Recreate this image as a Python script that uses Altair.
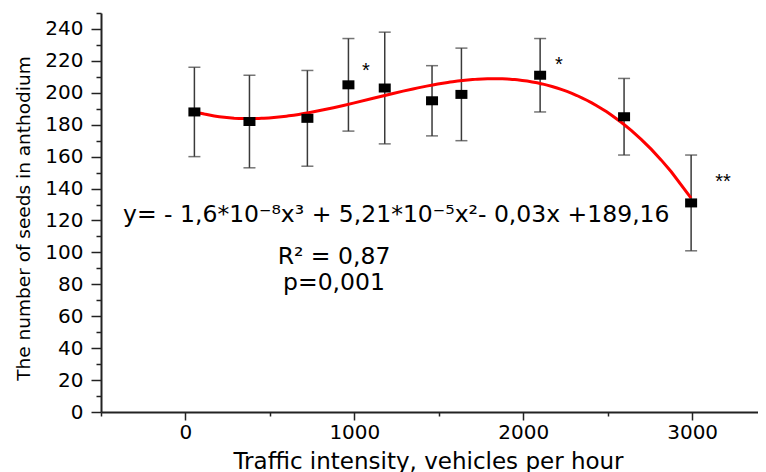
import altair as alt
import pandas as pd

# Data
traffic = [53, 379, 722, 965, 1180, 1460, 1634, 2100, 2597, 2994]
seeds = [188, 182, 184, 205, 203, 195, 199, 211, 185, 131]
err_low = [160, 153, 154, 176, 168, 173, 170, 188, 161, 101]
err_high = [216, 211, 214, 234, 238, 217, 228, 234, 209, 161]

x_ticks = [-500, 0, 500, 1000, 1500, 2000, 2500, 3000]
y_ticks = list(range(0, 251, 10))

equation = "y= - 1,6*10⁻⁸x³ + 5,21*10⁻⁵x²- 0,03x +189,16"
r2_text = "R² = 0,87"
p_text = "p=0,001"

df = pd.DataFrame({"x": traffic, "y": seeds, "lo": err_low, "hi": err_high})

FONT = "DejaVu Sans"
X_TITLE = "Traffic intensity, vehicles per hour"
Y_TITLE = "The number of seeds in anthodium"

xscale = alt.Scale(domain=[-500, 3390], nice=False, zero=False)
yscale = alt.Scale(domain=[0, 250], nice=False, zero=True)

xaxis = alt.Axis(
    values=x_ticks,
    format="d",
    labelExpr="datum.value % 1000 === 0 ? datum.label : ''",
    tickSize={"condition": {"test": "datum.value % 1000 !== 0", "value": 4}, "value": 8},
    tickColor="#222222",
    tickWidth=1.5,
    domainColor="#222222",
    domainWidth=2,
    grid=False,
    labelFont=FONT,
    labelFontSize=20,
    labelColor="black",
    labelBaseline="alphabetic",
    labelPadding=18,
    title=X_TITLE,
    titleFont=FONT,
    titleFontSize=23,
    titleFontWeight="normal",
    titleColor="black",
    titleBaseline="alphabetic",
    titleX=327,
    titleY=56,
)

yaxis = alt.Axis(
    values=y_ticks,
    labelExpr="datum.value % 20 === 0 ? datum.label : ''",
    tickSize={"condition": {"test": "datum.value % 20 !== 0", "value": 5}, "value": 10},
    tickColor="#222222",
    tickWidth=1.5,
    domainColor="#222222",
    domainWidth=2,
    grid=False,
    labelFont=FONT,
    labelFontSize=20,
    labelColor="black",
    labelPadding=8,
    title=Y_TITLE,
    titleFont=FONT,
    titleFontSize=18.5,
    titleFontWeight="normal",
    titleColor="black",
    titleBaseline="alphabetic",
    titleX=-72,
    titleY=205,
)

base = alt.Chart(df)

X = alt.X("x:Q", scale=xscale, axis=xaxis, title=X_TITLE)

err_rules = base.mark_rule(color="#3a3a3a", strokeWidth=1.5).encode(
    x=X,
    y=alt.Y("lo:Q", scale=yscale, axis=yaxis, title=Y_TITLE),
    y2="hi:Q",
)
cap_lo = base.mark_tick(color="#3a3a3a", size=12, thickness=1.5, orient="horizontal").encode(
    x=X, y=alt.Y("lo:Q", scale=yscale, axis=yaxis, title=Y_TITLE)
)
cap_hi = base.mark_tick(color="#3a3a3a", size=12, thickness=1.5, orient="horizontal").encode(
    x=X, y=alt.Y("hi:Q", scale=yscale, axis=yaxis, title=Y_TITLE)
)

fit = base.transform_regression("x", "y", method="poly", order=3).mark_line(
    color="#ff0000", strokeWidth=3
).encode(x=X, y=alt.Y("y:Q", scale=yscale, axis=yaxis, title=Y_TITLE))

points = base.mark_point(
    shape="M-1.2,-0.9L1.2,-0.9L1.2,0.9L-1.2,0.9Z",
    size=100,
    filled=True,
    color="black",
    opacity=1,
).encode(x=X, y=alt.Y("y:Q", scale=yscale, axis=yaxis, title=Y_TITLE))


def label(text, px, py, size, align="left", font=FONT):
    return alt.Chart(pd.DataFrame({"t": [text]})).mark_text(
        font=font, fontSize=size, color="black", align=align, baseline="alphabetic"
    ).encode(x=alt.value(px), y=alt.value(py), text="t:N")


texts = [
    label(equation, 22, 209, 23.5),
    label(r2_text, 233, 251, 23.5, "center"),
    label(p_text, 233, 277, 23.5, "center"),
    label("*", 265, 64, 20, "center", "Liberation Sans"),
    label("*", 458, 58, 20, "center", "Liberation Sans"),
    label("**", 622, 175, 20, "center", "Liberation Sans"),
]

chart = alt.layer(err_rules, cap_lo, cap_hi, fit, points, *texts).properties(
    width=657,
    height=399,
    padding={"left": 93, "top": 5, "right": 0, "bottom": 60},
    autosize=alt.AutoSizeParams(type="none"),
).configure_view(stroke=None)

chart.save("out.html", embed_options={"renderer": "svg", "actions": False})
